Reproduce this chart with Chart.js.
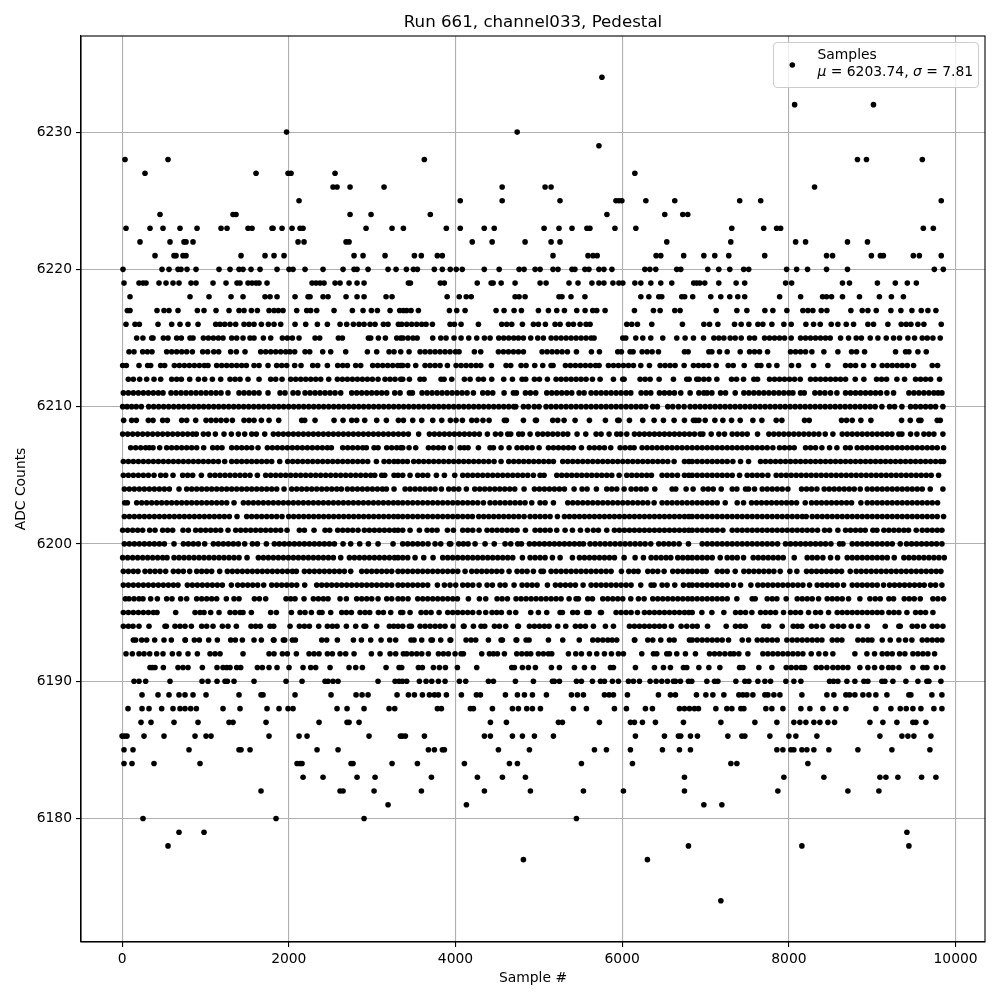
<!DOCTYPE html>
<html><head><meta charset="utf-8">
<script src="https://cdn.jsdelivr.net/npm/chart.js@4/dist/chart.umd.min.js"></script>
<style>html,body{margin:0;padding:0;background:#fff}canvas{display:block}</style>
</head><body><canvas id="c" width="1000" height="1000"></canvas>
<script>
const titleText = "Run 661, channel033, Pedestal";
const xLabel = "Sample #";
const yLabel = "ADC Counts";
const legendLine1 = "Samples";
const xTickValues = [0,2000,4000,6000,8000,10000];
const yTickValues = [6180,6190,6200,6210,6220,6230];
const s6234=[5757];
const s6232=[8069,9015];
const s6230=[1973,4740];
const s6229=[5721];
const s6228=[35,551,3626,8823,8931,9601];
const s6227=[275,1607,1991,2027,2555,6152];
const s6226=[2531,2579,2735,3143,4560,5075,5147,8308];
const s6225=[2123,4057,4560,5254,5925,5961,5996,6284,6631,7410,7662,9828];
const s6224=[455,1331,1367,2735,2987,3698,5817,6511,6727,6787];
const s6223=[47,335,491,695,899,1187,1259,1511,1559,1799,1811,1919,2039,2135,2171,2927,3239,3375,3890,4057,4345,4465,5063,5242,5398,5577,5613,5913,6164,7315,7698,7853,7901,9613,9733];
const s6222=[215,575,743,767,851,2111,2183,2687,2723,4201,4440,4835,5147,5254,6535,7303,8081,8200,8703,8943];
const s6221=[395,623,647,731,767,1427,1715,1823,1943,2783,2891,3155,3507,3590,3782,3842,5170,5590,5650,5700,6407,6463,6738,6980,7111,7279,7710,8452,8524,8990,9098,9134,9493,9565,9828];
const s6220=[11,479,563,671,707,779,887,1163,1295,1403,1451,1547,1655,1859,2003,2051,2195,2411,2651,2783,2819,2951,3191,3287,3411,3495,3543,3746,3842,3937,4009,4081,4345,4524,4763,4823,4955,5015,5170,5230,5398,5433,5553,5601,5721,5781,5877,6272,6332,6403,6655,6703,7027,7159,7291,7458,7518,7973,8093,8224,8452,8703,9745,9853];
const s6219=[23,203,251,287,443,527,611,683,827,887,1091,1247,1379,1415,1511,1559,1607,1643,1739,2279,2327,2375,2423,2555,2615,2723,2819,2903,3435,3459,3818,3866,4261,4428,4452,4548,4715,5015,5087,5362,5470,5637,5721,5781,5889,5961,6008,6152,6224,6344,6463,6595,6858,6894,6932,6991,7159,7367,7470,7961,8033,8643,8727,9062,9277,9421,9529];
const s6218=[95,815,1043,1307,1451,1715,1775,1859,2075,2231,2255,2411,2471,2687,2819,2903,3167,3239,3900,4045,4129,4189,4715,4763,4835,5242,5278,5386,5553,6224,6320,6439,6475,6715,6750,6846,7063,7183,7291,7387,7470,7889,8141,8404,8452,8512,8643,8847,9086,9230,9374];
const s6217=[63,95,419,503,563,671,903,983,1127,1283,1403,1463,1551,1623,1763,1823,1875,1931,2095,2215,2263,2335,2543,2763,2891,2991,3063,3215,3331,3375,3415,3467,3555,3927,4015,4115,4487,4583,4703,4791,4995,5115,5215,5307,5455,5555,5647,5695,5795,6147,6375,6455,6631,6695,7128,7376,7496,7712,7808,7976,8168,8228,8288,8388,8456,8744,8880,8948,9048,9224,9344,9476,9588,9668,9764];
const s6216=[47,155,207,431,595,695,791,911,1123,1175,1231,1295,1363,1463,1523,1583,1671,1755,1823,1903,2075,2203,2343,2463,2615,2695,2775,2843,2903,2975,3035,3135,3191,3315,3355,3415,3475,3535,3595,3647,3723,3935,3987,4067,4275,4555,4615,4675,4803,4935,4995,5079,5195,5255,5355,5415,5495,5567,5615,6055,6115,6183,6355,6723,6980,7048,7148,7348,7428,7520,7628,7688,7796,7940,8028,8204,8296,8376,8508,8588,8688,8776,8948,9016,9188,9348,9408,9464,9548,9620,9828];
const s6215=[175,250,355,371,495,551,655,711,815,851,975,1035,1095,1155,1211,1315,1375,1451,1535,1583,1695,1783,1923,1983,2043,2123,2315,2371,2595,2643,2955,2983,3075,3159,3295,3343,3370,3430,3490,3540,3727,3823,3887,3983,4067,4159,4255,4347,4415,4519,4579,4639,4699,4755,4815,4903,4987,5055,5147,5207,5267,5327,5387,5447,5507,5567,5627,5663,6007,6043,6163,6247,6343,6487,6655,6755,6855,6976,7100,7160,7220,7296,7356,7428,7528,7588,7708,7768,7828,7888,7948,8028,8140,8200,8260,8320,8380,8440,8496,8620,8716,8808,8870,8976,9068,9168,9256,9328,9428,9508,9600,9660,9728,9816];
const s6214=[83,143,247,303,359,535,595,655,715,775,843,967,1027,1100,1159,1303,1371,1475,1663,1723,1783,1843,1903,1963,2013,2071,2195,2251,2407,2503,2683,2943,3055,3203,3263,3343,3443,3575,3635,3695,3755,3815,3875,3935,4000,4043,4227,4303,4515,4575,4635,4695,4755,4815,5039,5099,5159,5219,5279,5343,5451,5631,5727,5947,5991,6095,6131,6239,6299,6359,6435,6747,6791,7040,7076,7168,7260,7416,7528,7588,7648,7744,8020,8080,8140,8200,8276,8420,8588,8752,8812,8908,9280,9400,9440,9548,9648];
const s6213=[7,51,203,307,343,463,511,627,687,747,807,867,927,987,1031,1135,1195,1255,1315,1375,1435,1491,1583,1643,1751,1855,1915,1975,2071,2147,2287,2347,2463,2587,2647,2703,2803,2863,3007,3067,3127,3187,3247,3307,3343,3367,3427,3523,3635,3695,3755,3815,3903,4007,4067,4127,4187,4247,4303,4431,4607,4663,4787,4847,4951,5047,5147,5171,5319,5379,5439,5499,5559,5619,5680,5723,5835,5895,5955,6015,6075,6135,6223,6327,6455,6515,6575,6635,6743,6855,6915,6976,7036,7128,7272,7332,7464,7620,7664,7760,7856,8032,8116,8296,8468,8680,8740,8800,8896,9016,9120,9180,9240,9300,9360,9420,9496,9720,9784];
const s6212=[75,135,211,295,383,463,595,655,711,811,915,991,1083,1183,1295,1355,1415,1511,1643,1783,1843,1919,2023,2083,2143,2203,2263,2323,2383,2479,2583,2643,2703,2763,2823,2883,2943,3003,3071,3155,3215,3275,3343,3367,3447,3575,3623,3827,3863,3955,4107,4175,4275,4335,4435,4579,4683,4799,4843,4947,5007,5103,5207,5267,5327,5387,5447,5507,5567,5643,5735,5895,6007,6023,6215,6275,6335,6443,6615,6775,6803,6895,6920,6980,7040,7136,7312,7372,7456,7580,7624,7768,7828,7888,7948,8008,8068,8136,8260,8320,8380,8440,8500,8560,8620,8680,8796,8900,9052,9112,9172,9296,9388,9520,9580,9640,9700,9808];
const s6211=[15,75,135,195,255,315,375,435,491,587,647,707,767,827,887,947,1007,1067,1127,1187,1271,1403,1463,1523,1583,1643,1751,1895,1955,2051,2111,2195,2255,2315,2375,2435,2495,2555,2623,2755,2815,2875,2935,2995,3055,3115,3175,3271,3335,3447,3483,3599,3659,3719,3779,3839,3899,3959,4019,4079,4139,4215,4327,4387,4447,4583,4695,4731,4839,4899,4963,5095,5155,5215,5275,5335,5395,5483,5543,5627,5687,5747,5807,5867,5927,5987,6047,6103,6227,6287,6343,6447,6507,6567,6627,6703,6815,6920,6980,7020,7076,7180,7240,7356,7460,7520,7580,7640,7700,7760,7820,7880,7940,8000,8048,8140,8184,8312,8372,8432,8500,8576,8680,8740,8800,8860,8920,8980,9040,9100,9176,9256,9440,9500,9560,9620,9680,9740,9790,9836];
const s6210=[7,60,115,170,231,319,379,439,499,559,619,679,739,799,859,919,979,1039,1099,1159,1219,1279,1339,1399,1459,1519,1579,1639,1699,1759,1819,1879,1939,1999,2059,2119,2179,2239,2299,2359,2419,2479,2539,2599,2659,2719,2779,2839,2899,2959,3019,3079,3139,3199,3259,3319,3379,3439,3499,3559,3619,3679,3739,3799,3859,3919,3979,4039,4099,4159,4219,4279,4339,4399,4459,4519,4579,4639,4699,4723,4815,4875,4945,5003,5087,5147,5207,5267,5327,5387,5447,5507,5567,5627,5687,5747,5807,5867,5927,5987,6047,6107,6167,6227,6283,6367,6423,6547,6607,6675,6743,6815,6875,6935,6995,7055,7115,7175,7235,7295,7355,7415,7475,7535,7595,7655,7715,7775,7835,7895,7955,8015,8075,8135,8195,8255,8315,8375,8435,8495,8555,8615,8675,8735,8795,8855,8915,8975,9035,9116,9208,9268,9356,9460,9520,9580,9640,9700,9760,9848];
const s6209=[19,115,171,315,371,487,543,715,775,883,1007,1067,1127,1187,1251,1323,1463,1523,1583,1671,1763,1879,2155,2191,2315,2543,2651,2755,2815,2911,3055,3171,3315,3375,3487,3595,3727,3835,3939,4007,4083,4195,4255,4330,4403,4587,4611,4815,4959,4971,5167,5227,5303,5435,5607,5799,5947,5963,6087,6247,6383,6495,6623,6747,6855,6883,6920,6996,7112,7208,7312,7416,7568,7676,7848,7916,8188,8244,8632,8692,8760,8864,8984,9352,9456,9560,9584,9780,9816];
const s6208=[7,67,127,187,247,307,367,427,487,547,607,667,727,787,847,891,975,1035,1119,1223,1311,1395,1471,1555,1611,1711,1815,1875,1935,1995,2055,2115,2175,2235,2295,2355,2415,2475,2535,2595,2655,2715,2775,2835,2895,2955,3015,3075,3135,3195,3255,3315,3375,3435,3558,3687,3747,3807,3867,3927,3987,4047,4107,4167,4227,4287,4383,4479,4543,4627,4663,4759,4803,4895,4987,5047,5107,5167,5227,5291,5347,5459,5563,5687,5747,5843,5935,5983,6055,6147,6207,6267,6327,6387,6447,6507,6567,6627,6687,6747,6807,6867,6935,6968,7068,7160,7228,7320,7380,7440,7500,7624,7760,7820,7880,7940,8000,8060,8120,8180,8240,8300,8360,8436,8528,8640,8700,8760,8820,8880,8940,9000,9060,9120,9180,9236,9320,9356,9460,9536,9620,9680,9740,9848];
const s6207=[103,163,223,283,327,371,451,535,595,655,715,775,835,895,979,1087,1143,1199,1315,1375,1435,1495,1555,1631,1743,1803,1863,1923,1983,2043,2103,2163,2223,2283,2343,2403,2463,2511,2647,2707,2767,2827,2887,2931,3023,3071,3175,3235,3295,3343,3367,3443,3523,3675,3735,3795,3855,3943,4055,4105,4151,4275,4415,4455,4547,4643,4739,4799,4859,4919,5003,5115,5175,5235,5295,5355,5415,5511,5607,5667,5727,5787,5863,5975,6035,6095,6143,6239,6299,6359,6419,6479,6539,6599,6659,6719,6779,6840,6900,6960,7020,7080,7140,7200,7260,7320,7380,7440,7500,7560,7620,7680,7740,7808,7888,7948,8008,8064,8200,8260,8320,8396,8488,8576,8680,8736,8820,8880,8940,9000,9060,9120,9180,9240,9300,9360,9420,9480,9540,9600,9660,9720,9780,9856];
const s6206=[15,75,135,195,255,315,375,435,495,555,615,675,735,795,855,915,975,1035,1095,1155,1231,1315,1375,1435,1495,1555,1615,1675,1735,1795,1891,1987,2047,2107,2167,2227,2287,2347,2407,2467,2527,2587,2647,2707,2767,2827,2887,2947,3051,3143,3203,3263,3311,3367,3423,3499,3559,3619,3679,3739,3799,3859,3919,3979,4039,4099,4159,4219,4279,4339,4399,4463,4547,4639,4699,4759,4819,4879,4939,4999,5059,5119,5175,5287,5347,5407,5467,5527,5587,5647,5707,5767,5827,5887,5947,6007,6067,6127,6187,6247,6307,6367,6427,6487,6547,6623,6747,6800,6840,6900,6960,7020,7080,7140,7200,7260,7328,7420,7516,7660,7720,7780,7840,7900,7960,8020,8080,8140,8200,8260,8320,8380,8440,8500,8560,8620,8680,8740,8800,8860,8920,8980,9040,9100,9160,9220,9280,9340,9400,9460,9520,9580,9640,9700,9760,9820,9856];
const s6205=[15,75,135,195,255,315,383,463,523,611,727,787,847,951,1055,1115,1175,1235,1295,1355,1415,1475,1535,1623,1723,1783,1843,1903,1963,2023,2083,2143,2203,2263,2323,2383,2443,2503,2563,2623,2683,2743,2803,2863,2923,2983,3031,3115,3151,3263,3311,3367,3455,3547,3607,3667,3771,3867,3991,4087,4147,4207,4267,4327,4387,4447,4507,4567,4627,4687,4747,4807,4867,4935,5015,5063,5215,5275,5335,5395,5455,5515,5575,5635,5695,5755,5815,5875,5963,6055,6115,6175,6235,6295,6351,6479,6539,6599,6663,6747,6800,6840,6900,6960,7020,7080,7140,7200,7260,7320,7408,7500,7560,7620,7680,7748,7848,7908,7968,8028,8088,8148,8208,8268,8328,8388,8448,8508,8568,8628,8688,8748,8808,8868,8928,8988,9048,9108,9168,9228,9288,9348,9408,9468,9528,9588,9648,9708,9796];
const s6204=[27,87,147,207,267,327,387,447,507,567,683,775,835,895,955,1015,1075,1135,1195,1255,1315,1375,1435,1495,1555,1615,1675,1735,1795,1855,1943,2035,2095,2155,2215,2275,2335,2395,2455,2515,2575,2631,2703,2763,2823,2883,2943,3003,3063,3123,3171,3263,3395,3455,3515,3575,3635,3695,3755,3831,3919,3979,4039,4131,4231,4291,4351,4411,4471,4531,4591,4651,4711,4823,4947,5007,5067,5127,5187,5247,5307,5423,5519,5579,5691,5815,5875,5935,6023,6107,6167,6227,6287,6391,6599,6643,6767,6851,6972,7032,7092,7188,7320,7376,7480,7516,7588,7680,7740,7800,7860,7920,7988,8152,8212,8272,8336,8424,8484,8544,8604,8664,8724,8784,8856,8940,9000,9060,9120,9180,9240,9300,9360,9420,9480,9540,9600,9696,9848];
const s6203=[31,63,175,235,295,355,415,475,535,595,655,715,775,835,895,955,1015,1075,1135,1195,1255,1343,1455,1515,1575,1635,1695,1755,1815,1875,1935,1995,2055,2115,2175,2235,2295,2355,2415,2475,2535,2595,2655,2715,2775,2835,2895,2955,3015,3075,3135,3195,3255,3311,3367,3427,3487,3547,3607,3667,3727,3787,3847,3907,3967,4027,4087,4147,4207,4267,4335,4415,4475,4535,4595,4655,4715,4775,4835,4915,5015,5075,5175,5347,5407,5467,5527,5587,5647,5707,5767,5827,5887,5947,6007,6067,6127,6187,6247,6307,6383,6479,6539,6599,6659,6719,6779,6840,6900,6960,7020,7080,7140,7236,7380,7456,7552,7612,7672,7732,7792,7852,7912,7972,8032,8092,8196,8272,8332,8392,8452,8512,8572,8632,8692,8752,8864,8940,9000,9060,9120,9180,9240,9300,9360,9420,9480,9540,9600,9660,9720,9784];
const s6202=[27,87,147,207,267,327,387,447,507,567,627,687,747,807,867,927,987,1047,1107,1167,1227,1287,1379,1495,1555,1615,1675,1735,1795,1855,1919,1999,2059,2119,2179,2239,2299,2359,2419,2479,2539,2599,2659,2719,2779,2839,2899,2959,3019,3079,3139,3199,3259,3311,3367,3427,3487,3547,3607,3667,3727,3787,3847,3907,3967,4027,4087,4147,4203,4279,4339,4399,4459,4519,4579,4639,4699,4759,4823,4895,4955,5015,5075,5135,5223,5307,5367,5427,5487,5547,5607,5667,5727,5787,5847,5907,5967,6027,6087,6147,6207,6267,6327,6387,6447,6507,6567,6627,6687,6747,6800,6840,6900,6960,7020,7080,7140,7200,7260,7320,7380,7440,7500,7560,7620,7680,7740,7800,7860,7920,7980,8040,8100,8160,8208,8280,8340,8400,8460,8520,8580,8640,8700,8760,8820,8880,8940,9000,9060,9120,9180,9240,9300,9360,9420,9480,9540,9600,9660,9720,9780,9856];
const s6201=[7,67,127,187,247,331,395,487,547,607,731,795,883,943,1003,1063,1123,1183,1271,1363,1423,1483,1543,1603,1663,1723,1783,1843,1903,1979,2127,2187,2303,2435,2491,2587,2647,2707,2767,2831,2907,2967,3027,3087,3147,3207,3267,3311,3367,3455,3567,3659,3719,3779,3903,3975,4087,4147,4207,4283,4379,4439,4499,4559,4619,4679,4739,4839,4955,5015,5075,5135,5215,5315,5403,5499,5583,5655,5715,5815,5907,5967,6027,6087,6147,6207,6267,6327,6387,6447,6507,6567,6627,6687,6747,6800,6840,6900,6960,7020,7080,7140,7208,7320,7380,7440,7500,7560,7620,7680,7740,7800,7860,7920,7980,8040,8100,8160,8220,8280,8344,8428,8488,8588,8680,8740,8800,8860,8916,9008,9056,9140,9200,9260,9320,9380,9436,9528,9600,9660,9720,9780,9836];
const s6200=[27,87,147,207,267,327,387,447,507,623,735,795,855,915,991,1095,1155,1215,1275,1335,1395,1471,1563,1623,1731,1827,1887,1947,2007,2067,2127,2187,2247,2307,2367,2427,2487,2547,2651,2743,2851,2955,3071,3251,3367,3427,3487,3547,3607,3671,3755,3823,3927,3943,4039,4095,4151,4235,4355,4465,4595,4663,4747,4791,4887,4947,5007,5067,5127,5187,5247,5307,5367,5427,5487,5535,5615,5675,5735,5795,5855,5915,5975,6035,6095,6155,6215,6275,6343,6439,6499,6559,6619,6683,6795,6960,7020,7080,7140,7200,7260,7320,7380,7440,7500,7560,7620,7680,7740,7800,7864,7960,8020,8080,8140,8200,8260,8320,8380,8440,8504,8608,8648,8760,8820,8880,8940,9000,9060,9120,9180,9240,9336,9412,9472,9532,9592,9652,9712,9772,9836];
const s6199=[7,67,127,187,247,307,367,427,487,539,623,683,743,803,863,923,983,1043,1103,1163,1223,1283,1343,1403,1499,1635,1695,1755,1815,1875,1935,1995,2055,2115,2175,2235,2295,2355,2415,2475,2535,2623,2727,2787,2847,2907,2967,3027,3087,3147,3207,3267,3311,3367,3427,3515,3619,3731,3847,3907,3967,4027,4087,4147,4207,4267,4327,4387,4447,4507,4567,4627,4687,4803,4895,4955,5015,5075,5163,5255,5403,5487,5547,5607,5667,5727,5787,5847,5907,6023,6155,6255,6347,6407,6467,6527,6583,6667,6727,6787,6840,6900,6960,7020,7080,7176,7260,7320,7380,7456,7572,7632,7692,7752,7812,7872,7932,8064,8220,8280,8340,8408,8500,8584,8700,8760,8820,8880,8940,9000,9060,9120,9180,9264,9380,9440,9500,9560,9620,9680,9740,9800,9864];
const s6198=[15,75,135,191,275,335,395,455,523,615,675,735,811,895,955,1015,1075,1171,1263,1323,1383,1443,1503,1563,1623,1683,1743,1803,1863,1923,1983,2043,2091,2187,2247,2307,2367,2427,2487,2547,2607,2667,2743,2875,2935,2995,3055,3115,3175,3235,3311,3367,3427,3487,3547,3607,3667,3727,3787,3847,3907,3967,4027,4115,4195,4255,4315,4375,4435,4495,4555,4643,4739,4799,4859,4935,5027,5055,5147,5207,5267,5327,5387,5447,5507,5567,5627,5687,5747,5807,5867,5991,6079,6139,6191,6307,6367,6427,6503,6607,6667,6727,6787,6840,6900,6960,7008,7140,7200,7260,7356,7460,7520,7580,7640,7700,7760,7820,7896,8012,8096,8212,8272,8332,8392,8452,8512,8572,8632,8736,8808,8868,8928,8988,9048,9108,9168,9228,9288,9348,9408,9468,9528,9588,9648,9708,9768,9824];
const s6197=[15,75,135,195,255,315,375,435,495,555,615,671,783,843,903,963,1023,1083,1143,1203,1311,1387,1447,1507,1567,1627,1699,1795,1855,1915,1975,2035,2095,2191,2335,2395,2455,2515,2575,2635,2695,2755,2815,2875,2935,2995,3055,3115,3175,3235,3311,3367,3427,3487,3547,3607,3667,3783,3867,3935,4003,4087,4147,4207,4283,4379,4443,4535,4595,4703,4799,4859,4919,4979,5103,5199,5259,5319,5379,5439,5531,5627,5687,5747,5807,5867,5927,5987,6047,6107,6223,6347,6383,6479,6539,6631,6735,6800,6840,6900,6960,7020,7080,7140,7200,7260,7336,7420,7544,7628,7688,7748,7808,7868,7928,7988,8048,8108,8168,8248,8340,8400,8460,8520,8580,8656,8760,8820,8880,8940,9000,9060,9136,9208,9268,9328,9388,9448,9508,9568,9624,9700,9760,9836];
const s6196=[39,83,143,203,251,343,423,535,599,703,775,895,955,1015,1075,1135,1251,1343,1403,1587,1647,1723,1967,2023,2075,2183,2295,2355,2415,2471,2615,2691,2815,2875,2935,2995,3071,3175,3235,3311,3367,3431,3547,3607,3667,3727,3787,3847,3907,3967,4023,4155,4287,4363,4499,4559,4623,4727,4787,4847,4907,4967,5027,5087,5147,5207,5267,5363,5447,5475,5587,5643,5767,5827,5887,5947,6007,6103,6195,6263,6367,6427,6487,6547,6607,6667,6727,6787,6840,6900,6960,7020,7080,7140,7200,7260,7376,7560,7596,7740,7800,7856,7968,8100,8160,8220,8280,8356,8460,8520,8580,8640,8716,8852,8972,9036,9096,9200,9256,9384,9444,9504,9576,9728,9788,9856];
const s6195=[15,75,135,195,255,315,375,419,643,875,935,983,1063,1163,1295,1355,1415,1451,1551,1783,1851,2031,2135,2195,2271,2367,2399,2503,2635,2691,2751,2855,2915,2971,3075,3135,3223,3343,3367,3455,3587,3647,3707,3803,3907,3967,4027,4087,4147,4207,4283,4363,4439,4495,4551,4647,4723,4903,4995,5095,5255,5283,5407,5463,5575,5603,5739,5751,5927,5987,6047,6107,6183,6267,6327,6387,6447,6507,6567,6627,6687,6747,6800,6840,6956,7076,7220,7360,7420,7480,7556,7660,7720,7780,7840,7936,8020,8080,8140,8236,8320,8380,8476,8580,8640,8700,8760,8820,8880,8940,9000,9060,9116,9200,9260,9320,9416,9520,9580,9640,9728];
const s6194=[15,75,131,203,323,515,531,635,695,755,831,955,1015,1091,1203,1271,1371,1547,1603,1659,1775,1819,2015,2127,2187,2247,2359,2463,2523,2579,2691,2803,2903,2923,3055,3207,3259,3311,3367,3447,3471,3575,3635,3695,3755,3815,3875,3971,4095,4103,4215,4307,4351,4467,4527,4603,4747,4755,4887,4947,5007,5067,5123,5227,5323,5439,5499,5559,5655,5799,5895,6087,6147,6207,6267,6327,6387,6447,6507,6591,6707,6775,6843,6900,7024,7248,7360,7420,7476,7700,7756,7920,8052,8104,8156,8272,8332,8408,8520,8590,8656,8748,8836,8940,9156,9320,9336,9480,9540,9616,9720,9780,9848];
const s6193=[135,163,235,295,391,503,591,755,759,867,927,1039,1143,1303,1359,1443,1583,1671,1815,1823,1935,1951,2043,2079,2395,2455,2583,2775,2871,2983,3107,3211,3283,3467,3503,3595,3707,3723,3823,3935,3943,4127,4187,4243,4395,4547,4563,4727,4735,4847,4883,5115,5287,5485,5647,5707,5767,5827,5880,5935,6147,6151,6307,6367,6463,6567,6623,6807,6840,6900,6960,7020,7080,7140,7200,7276,7440,7516,7620,7680,7740,7800,7860,7976,8040,8100,8160,8220,8280,8340,8396,8520,8580,8636,8828,8888,8948,8996,9120,9216,9320,9400,9476,9600,9660,9720,9780,9836];
const s6192=[47,123,203,263,331,415,491,603,683,791,903,1055,1115,1175,1451,1763,1823,1923,1983,2091,2243,2303,2363,2463,2523,2615,2683,2783,2991,3095,3215,3283,3375,3415,3475,3535,3595,3675,3795,3855,3915,3995,4067,4095,4315,4407,4455,4503,4587,4735,4795,4855,4903,4995,5055,5115,5155,5355,5443,5511,5607,5695,5787,5871,5955,6015,6235,6375,6415,6535,6567,6655,6759,6879,7048,7108,7168,7232,7296,7340,7400,7508,7688,7748,7808,7868,7928,7988,8048,8108,8168,8268,8360,8440,8528,8792,8936,9028,9120,9180,9240,9328,9392,9488,9548,9608,9668,9748];
const s6191=[335,363,395,495,671,731,791,963,1139,1211,1255,1295,1375,1423,1623,1683,1763,1859,2003,2171,2263,2323,2495,2723,2803,2883,3167,3323,3355,3555,3603,3735,3807,3879,4023,4255,4675,4707,4803,4875,4959,5151,5247,5427,5547,5655,5859,5895,6159,6387,6495,6579,6735,6775,6920,7040,7172,7408,7448,7640,7796,7968,8028,8088,8148,8188,8328,8388,8456,8528,8588,8648,8708,8852,8948,9028,9116,9196,9248,9320,9488,9608,9656,9768,9848];
const s6190=[143,203,283,575,959,1031,1139,1235,1263,1343,1583,1967,2159,2435,2471,2531,2591,3071,3275,3323,3363,3415,3567,3647,3715,3795,3875,4047,4123,4395,4455,4719,4935,5163,5187,5247,5451,5511,5643,5739,5787,5883,5955,6075,6135,6207,6335,6407,6475,6543,6615,6639,6699,6795,6835,7016,7108,7148,7364,7472,7520,7628,7712,7780,7964,8060,8144,8488,8536,8588,8696,8792,8900,8948,9116,9152,9248,9404,9548,9656,9680,9824];
const s6189=[239,431,563,683,755,851,1007,1403,1667,1691,2075,2507,2807,2879,2951,3299,3435,3507,3603,3687,3747,3795,3891,4071,4251,4299,4599,4743,4827,4923,5091,5391,5463,5535,5787,5843,5895,6063,6435,6579,6639,6891,7004,7088,7220,7400,7448,7496,7568,7712,7748,7820,7892,8156,8456,8540,8684,8728,8792,8888,8960,9044,9176,9440,9464,9716,9836];
const s6188=[71,239,323,475,611,695,755,823,891,1211,1415,1739,1883,1991,2051,2579,2699,2903,3203,3271,3783,3831,4179,4215,4443,4683,4755,4855,4923,5019,5415,5571,5907,6051,6279,6363,6687,6747,6807,6867,6915,7124,7256,7316,7424,7460,7724,7796,7928,8144,8252,8408,8564,8684,9044,9224,9336,9408,9488,9584,9740,9836];
const s6187=[227,347,623,911,1283,1331,1727,2363,2699,2723,2843,4419,4611,5235,5283,5727,6099,6147,6243,6399,6735,7184,7592,7856,8060,8132,8204,8300,8372,8468,8548,8972,9128,9296,9488,9524,9644];
const s6186=[0,31,59,263,503,875,1007,1067,1763,2123,2219,2963,3339,3363,3399,3627,4347,4419,4683,4803,4947,5175,6159,6507,6675,6703,6819,6903,7268,7436,7472,7772,8000,8084,8336,9092,9356,9428,9500,9704];
const s6185=[23,131,803,1403,1427,1535,2339,2591,3675,3747,3843,3867,4515,4887,5667,5811,6099,6483,6687,6819,7856,7928,8024,8060,8156,8216,8300,8480,8828,9236,9692];
const s6184=[23,119,383,935,2099,2135,2159,2747,2771,3239,3543,4107,4647,4743,5511,6123,7304,7376,8228];
const s6183=[2171,2411,2819,3035,3711,4263,4563,4839,6747,7940,8420,9092,9164,9308,9592,9764];
const s6182=[1667,2615,2651,3023,3591,4347,4899,5535,6015,6747,7868,8708,9080];
const s6181=[3191,4131,6980,7196];
const s6180=[251,1847,2903,5451];
const s6179=[683,983,9416];
const s6178=[551,6795,8156,9440];
const s6177=[4815,6303];
const s6174=[7184];
const adcLevels=[6234,6232,6230,6229,6228,6227,6226,6225,6224,6223,6222,6221,6220,6219,6218,6217,6216,6215,6214,6213,6212,6211,6210,6209,6208,6207,6206,6205,6204,6203,6202,6201,6200,6199,6198,6197,6196,6195,6194,6193,6192,6191,6190,6189,6188,6187,6186,6185,6184,6183,6182,6181,6180,6179,6178,6177,6174];
const levelSamples=[s6234,s6232,s6230,s6229,s6228,s6227,s6226,s6225,s6224,s6223,s6222,s6221,s6220,s6219,s6218,s6217,s6216,s6215,s6214,s6213,s6212,s6211,s6210,s6209,s6208,s6207,s6206,s6205,s6204,s6203,s6202,s6201,s6200,s6199,s6198,s6197,s6196,s6195,s6194,s6193,s6192,s6191,s6190,s6189,s6188,s6187,s6186,s6185,s6184,s6183,s6182,s6181,s6180,s6179,s6178,s6177,s6174];
const points=[];
adcLevels.forEach((y,i)=>levelSamples[i].forEach(x=>points.push({x,y})));
const FONT='"DejaVu Sans"';
const frameAndLegend={
  id:'frameAndLegend',
  afterLayout(chart){ chart.titleBlock.left=chart.chartArea.left; chart.titleBlock.right=chart.chartArea.right; },
  afterDraw(chart){
    const c=chart.ctx,a=chart.chartArea;
    c.save();
    c.strokeStyle='#000';c.lineWidth=1.1;
    c.strokeRect(a.left,a.top,a.right-a.left,a.bottom-a.top);
    c.beginPath();c.roundRect(773.5,42.5,205,45,3.5);
    c.fillStyle='rgba(255,255,255,0.8)';c.fill();
    c.strokeStyle='#cccccc';c.lineWidth=1;c.stroke();
    c.fillStyle='#000';
    c.beginPath();c.arc(792.3,65,2.8,0,Math.PI*2);c.fill();
    c.textBaseline='alphabetic';c.textAlign='left';
    c.font='13.89px '+FONT;
    c.fillText(legendLine1,817.5,59);
    let x=817.5;
    [['\u03bc',1],[' = 6203.74, ',0],['\u03c3',1],[' = 7.81',0]].forEach(([t,it])=>{
      c.font=(it?'italic ':'')+'13.89px '+FONT;
      c.fillText(t,x,76);
      x+=c.measureText(t).width;
    });
    c.restore();
  }
};
new Chart(document.getElementById('c'),{
  type:'scatter',
  data:{datasets:[{label:legendLine1,data:points,backgroundColor:'#000',borderWidth:0,pointRadius:2.8,pointHoverRadius:2.8}]},
  options:{
    responsive:false,animation:false,events:[],
    layout:{padding:{left:0,right:15,top:0,bottom:0}},
    plugins:{
      legend:{display:false},tooltip:{enabled:false},
      title:{display:true,text:titleText,color:'#000',font:{family:FONT,size:16.67,weight:'normal',lineHeight:1.2},padding:{top:13,bottom:3}}
    },
    scales:{
      x:{type:'linear',min:-493,max:10353,
        afterFit(s){s.height=58;},
        afterBuildTicks(s){s.ticks=xTickValues.map(value=>({value}));},
        title:{display:true,text:xLabel,color:'#000',font:{family:FONT,size:13.89},padding:{top:0,bottom:13}},
        grid:{color:'#b0b0b0',lineWidth:1.1,tickColor:'#000',tickLength:5,tickWidth:1.1},
        border:{color:'#000',width:1.1},
        ticks:{color:'#000',font:{family:FONT,size:13.89},padding:4,maxRotation:0,callback:v=>String(v)}
      },
      y:{type:'linear',min:6171,max:6237,
        afterFit(s){s.width=81;},
        afterBuildTicks(s){s.ticks=yTickValues.map(value=>({value}));},
        title:{display:true,text:yLabel,color:'#000',font:{family:FONT,size:13.89},padding:{top:13,bottom:0}},
        grid:{color:'#b0b0b0',lineWidth:1.1,tickColor:'#000',tickLength:5,tickWidth:1.1},
        border:{color:'#000',width:1.1},
        ticks:{color:'#000',font:{family:FONT,size:13.89},padding:4,callback:v=>String(v)}
      }
    }
  },
  plugins:[frameAndLegend]
});
</script>
</body></html>
